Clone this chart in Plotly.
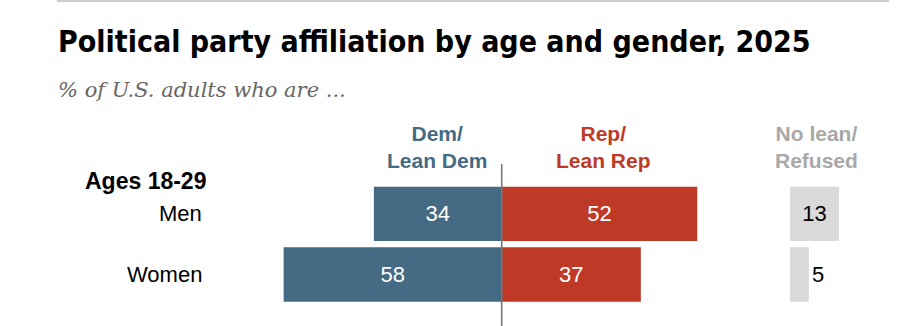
import plotly.graph_objects as go

# Survey shares (% of U.S. adults ages 18-29)
groups = ["Men", "Women"]
dem_lean = [34, 58]
rep_lean = [52, 37]
no_lean = [13, 5]

title_text = "Political party affiliation by age and gender, 2025"
subtitle_text = "% of U.S. adults who are ..."
age_label = "Ages 18-29"
head_dem = "Dem/<br>Lean Dem"
head_rep = "Rep/<br>Lean Rep"
head_none = "No lean/<br>Refused"

W, H = 908, 326
DEM_COLOR = "#456a83"
REP_COLOR = "#bf3927"
NONE_COLOR = "#d9d9d9"
NONE_HEAD = "#a8a8a8"
NONE_BASE = 76.7  # separate column for "no lean"
BODY_FONT = "Liberation Sans, Arial, sans-serif"
BAR_W = 0.895


def px(x):
    return x / W


def py(y):
    return 1 - y / H


fig = go.Figure()

fig.add_trace(go.Bar(
    y=groups, x=[-v for v in dem_lean], orientation="h", width=BAR_W,
    marker=dict(color=DEM_COLOR, line=dict(width=0)),
    text=[str(v) for v in dem_lean], textposition="inside",
    insidetextanchor="middle",
    textfont=dict(family=BODY_FONT, size=22, color="white"),
    hoverinfo="skip",
))
fig.add_trace(go.Bar(
    y=groups, x=rep_lean, orientation="h", width=BAR_W,
    marker=dict(color=REP_COLOR, line=dict(width=0)),
    text=[str(v) for v in rep_lean], textposition="inside",
    insidetextanchor="middle",
    textfont=dict(family=BODY_FONT, size=22, color="white"),
    hoverinfo="skip",
))
fig.add_trace(go.Bar(
    y=groups, x=no_lean, base=NONE_BASE, orientation="h", width=BAR_W,
    marker=dict(color=NONE_COLOR, line=dict(width=0)),
    text=[str(v) for v in no_lean],
    textposition=["inside" if v >= 10 else "outside" for v in no_lean],
    insidetextanchor="middle",
    textfont=dict(family=BODY_FONT, size=22, color="black"),
    cliponaxis=False,
    hoverinfo="skip",
))

# zero divider between Dem and Rep bars
fig.add_shape(type="line", xref="x", yref="paper", x0=0, x1=0,
              y0=0, y1=py(164), line=dict(color="#777777", width=1.6))
# thin rule across the top
fig.add_shape(type="line", xref="paper", yref="paper", x0=px(57), x1=px(889),
              y0=py(1), y1=py(1), line=dict(color="#cccccc", width=2))

ann = []
ann.append(dict(text=f"<b>{title_text}</b>", x=px(56), y=py(41.5),
                xanchor="left", yanchor="middle", showarrow=False,
                font=dict(family="DejaVu Sans Condensed, sans-serif",
                          size=30, color="black")))
ann.append(dict(text=f"<i>{subtitle_text}</i>", x=px(56), y=py(90),
                xanchor="left", yanchor="middle", showarrow=False,
                font=dict(family="DejaVu Serif, serif",
                          size=21, color="#666666")))
for txt, cx, col in [(head_dem, 437, DEM_COLOR), (head_rep, 603, REP_COLOR),
                     (head_none, 816, NONE_HEAD)]:
    ann.append(dict(text=f"<b>{txt}</b>", x=px(cx), y=py(147), xanchor="center",
                    yanchor="middle", align="center", showarrow=False,
                    font=dict(family=BODY_FONT, size=21, color=col)))
ann.append(dict(text=f"<b>{age_label}</b>", x=px(208), y=py(180.7),
                xanchor="right", yanchor="middle", showarrow=False,
                font=dict(family=BODY_FONT, size=23, color="black")))
for g in groups:
    ann.append(dict(text=g, x=px(204), xref="paper", y=g, yref="y",
                    xanchor="right", yanchor="middle", showarrow=False,
                    font=dict(family=BODY_FONT, size=22, color="black")))

fig.update_layout(
    width=W, height=H, margin=dict(l=0, r=0, t=0, b=0),
    paper_bgcolor="white", plot_bgcolor="white",
    barmode="overlay", showlegend=False,
    xaxis=dict(range=[-501.7 / 3.76, (W - 501.7) / 3.76], visible=False,
               fixedrange=True),
    yaxis=dict(range=[(H - 213.8) / 60.7, -213.8 / 60.7], visible=False,
               type="category", categoryorder="array", categoryarray=groups,
               fixedrange=True),
    annotations=ann,
)
for a in fig.layout.annotations:
    if a.xref is None:
        a.xref = "paper"
    if a.yref is None:
        a.yref = "paper"

fig.write_html("out.html", config={"displayModeBar": False})
